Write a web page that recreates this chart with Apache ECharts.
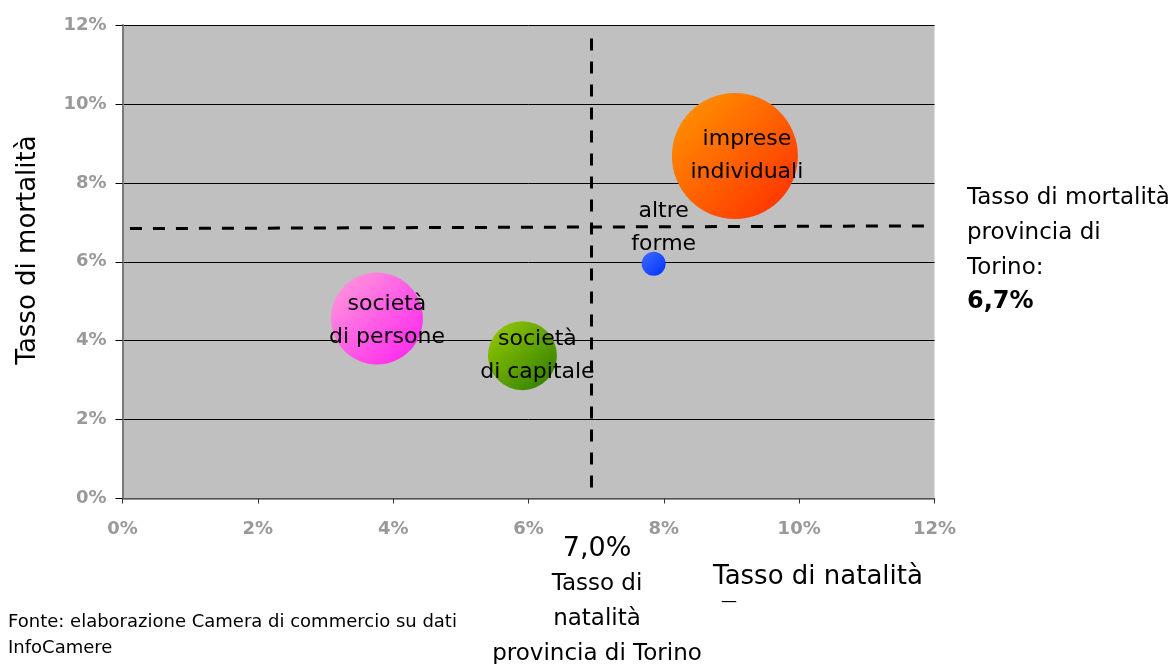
<!DOCTYPE html>
<html>
<head>
<meta charset="utf-8">
<script src="https://cdn.jsdelivr.net/npm/echarts@6/dist/echarts.min.js"></script>
<style>
html,body{margin:0;padding:0;background:#fff;}
#chart{width:1174px;height:664px;}
</style>
</head>
<body>
<div id="chart"></div>
<script>
// ---- data ----
var categories = ['imprese\nindividuali', 'altre\nforme', 'società\ndi persone', 'società\ndi capitale'];
var natalita   = [9.05, 7.85, 3.76, 5.91];   // x, %
var mortalita  = [8.68, 5.95, 4.56, 3.62];   // y, %
var peso       = [100, 3.6, 53.3, 30.0];     // relative bubble area
var tickValues = [0, 2, 4, 6, 8, 10, 12];
var refNatalita = 6.92;                       // provincial birth rate line
var refMortalitaStart = 6.84, refMortalitaEnd = 6.91; // provincial death rate line
var refLabelNat = '7,0%';
var refLabelMort = '6,7%';

// ---- styles ----
var FONT = '"DejaVu Sans", sans-serif';
var grads = [
  ['#ff9a00', '#ff2a00'],
  ['#3f6dff', '#0030ff'],
  ['#ffa0da', '#ff1cf0'],
  ['#99cc00', '#2a7a00']
];
var labelOffsets = [[12, 0], [10, -36], [10, 2], [15, 0]];

var data = categories.map(function (c, i) {
  return {
    name: c,
    value: [natalita[i], mortalita[i], peso[i]],
    itemStyle: {
      opacity: 1,
      color: {type: 'linear', x: 0, y: 0, x2: 1, y2: 1,
        colorStops: [{offset: 0, color: grads[i][0]}, {offset: 1, color: grads[i][1]}]}
    },
    label: {offset: labelOffsets[i]}
  };
});

var chart = echarts.init(document.getElementById('chart'));
chart.setOption({
  animation: false,
  backgroundColor: '#ffffff',
  grid: {left: 122.5, right: 239.5, top: 25, bottom: 165.5, show: true,
         backgroundColor: '#c0c0c0', borderWidth: 0},
  xAxis: {
    type: 'value', min: 0, max: 12, interval: 2,
    axisLine: {show: true, lineStyle: {color: '#6e6e6e', width: 1.5}},
    axisTick: {show: true, length: 5, lineStyle: {color: '#333'}},
    splitLine: {show: false},
    axisLabel: {margin: 22, color: '#999999', fontSize: 18, fontWeight: 'bold', fontFamily: FONT,
      formatter: function (v) { return v + '%'; }}
  },
  yAxis: {
    type: 'value', min: 0, max: 12, interval: 2,
    axisLine: {show: true, lineStyle: {color: '#7a7a7a', width: 2}},
    axisTick: {show: true, length: 7, lineStyle: {color: '#000'}},
    splitLine: {show: true, lineStyle: {color: '#000', width: 1}},
    axisLabel: {margin: 16, color: '#999999', fontSize: 18, fontWeight: 'bold', fontFamily: FONT,
      formatter: function (v) { return v + '%'; }}
  },
  series: [{
    type: 'scatter',
    data: data,
    itemStyle: {opacity: 1},
    symbolSize: function (d) { return 126 * Math.sqrt(d[2] / 100); },
    label: {show: true, position: 'inside', color: '#000', opacity: 1, fontSize: 22, fontFamily: FONT,
      lineHeight: 33, formatter: '{b}'},
    markLine: {
      silent: true, symbol: 'none', animation: false,
      lineStyle: {color: '#000', width: 3, type: [12, 11], opacity: 1},
      label: {show: false},
      data: [
        [{coord: [refNatalita, 11.66]}, {coord: [refNatalita, 0.08]}],
        [{coord: [0.11, refMortalitaStart]}, {coord: [12, refMortalitaEnd]}]
      ]
    }
  }],
  graphic: [
    {type: 'text', x: 28, y: 250, rotation: Math.PI / 2,
     style: {text: 'Tasso di mortalità', font: '26px ' + FONT, fill: '#000', textAlign: 'center', textVerticalAlign: 'middle'}},
    {type: 'text', x: 818, y: 577,
     style: {text: 'Tasso di natalità', font: '26px ' + FONT, fill: '#000', textAlign: 'center', textVerticalAlign: 'middle'}},
    {type: 'text', x: 729, y: 602,
     style: {text: '—', font: '16px ' + FONT, fill: '#000', textAlign: 'center', textVerticalAlign: 'middle'}},
    {type: 'text', x: 597, y: 549,
     style: {text: refLabelNat, font: '27px ' + FONT, fill: '#000', textAlign: 'center', textVerticalAlign: 'middle'}},
    {type: 'text', x: 597, y: 619,
     style: {text: 'Tasso di\nnatalità\nprovincia di Torino', font: '23px ' + FONT, lineHeight: 35, fill: '#000', textAlign: 'center', textVerticalAlign: 'middle'}},
    {type: 'text', x: 967, y: 233,
     style: {text: 'Tasso di mortalità\nprovincia di\nTorino:', font: '23px ' + FONT, lineHeight: 35, fill: '#000', textAlign: 'left', textVerticalAlign: 'middle'}},
    {type: 'text', x: 967, y: 302,
     style: {text: refLabelMort, font: 'bold 24px ' + FONT, fill: '#000', textAlign: 'left', textVerticalAlign: 'middle'}},
    {type: 'text', x: 8, y: 635,
     style: {text: 'Fonte: elaborazione Camera di commercio su dati\nInfoCamere', font: '18px ' + FONT, lineHeight: 26, fill: '#000', textAlign: 'left', textVerticalAlign: 'middle'}}
  ]
});
</script>
</body>
</html>
